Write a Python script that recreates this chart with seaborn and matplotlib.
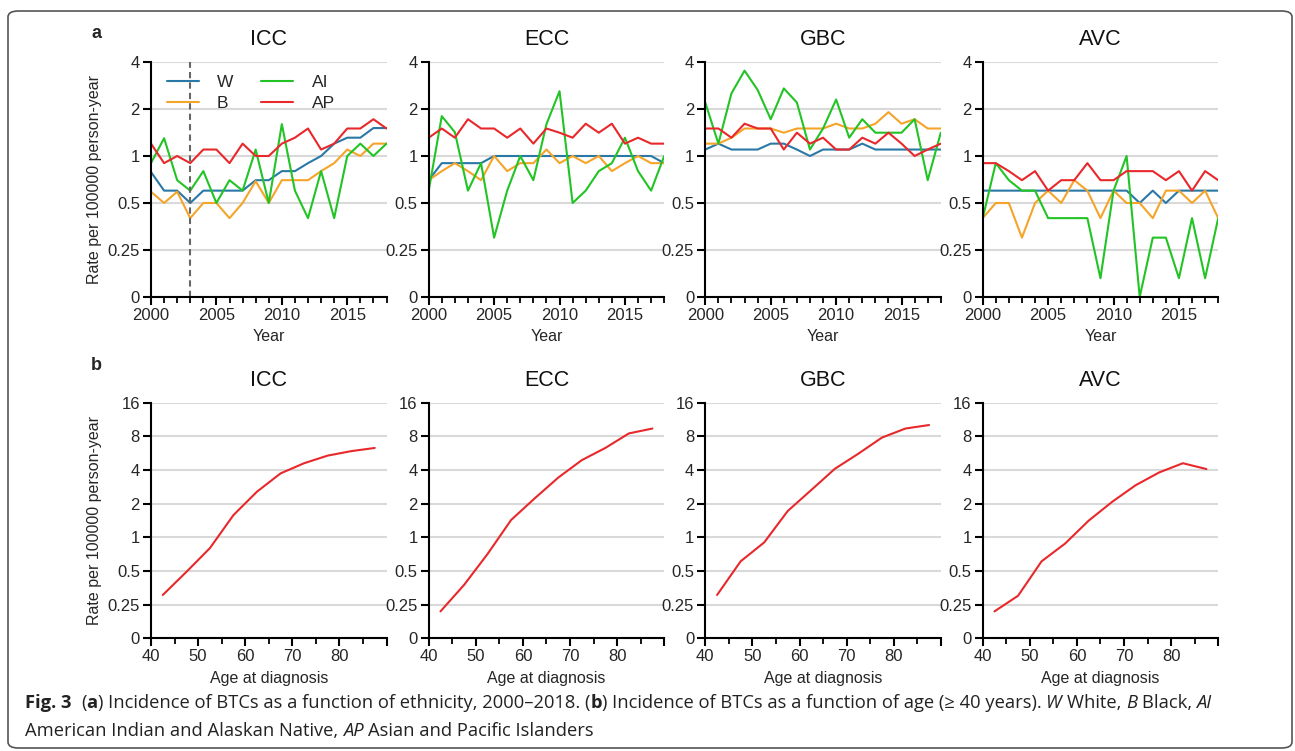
import numpy as np
import pandas as pd
import matplotlib
matplotlib.use("Agg")
import matplotlib.pyplot as plt
from matplotlib import font_manager
from matplotlib.patches import FancyBboxPatch
import seaborn as sns

# ---- data ----
years = list(range(2000, 2019))
groups = ["W", "B", "AI", "AP"]
sites = ["ICC", "ECC", "GBC", "AVC"]

icc_w = [0.79, 0.6, 0.6, 0.5, 0.6, 0.6, 0.6, 0.6, 0.7, 0.7, 0.8, 0.8, 0.9, 1.0, 1.2, 1.31, 1.31, 1.51, 1.51]
icc_b = [0.59, 0.5, 0.59, 0.4, 0.5, 0.5, 0.4, 0.5, 0.69, 0.5, 0.7, 0.7, 0.7, 0.8, 0.9, 1.1, 1.0, 1.2, 1.2]
icc_ai = [0.9, 1.3, 0.7, 0.6, 0.8, 0.5, 0.7, 0.6, 1.1, 0.5, 1.6, 0.6, 0.4, 0.8, 0.4, 1.0, 1.2, 1.0, 1.2]
icc_ap = [1.2, 0.9, 1.0, 0.9, 1.1, 1.1, 0.9, 1.2, 1.0, 1.0, 1.2, 1.31, 1.5, 1.1, 1.2, 1.5, 1.5, 1.72, 1.5]

ecc_w = [0.7, 0.9, 0.9, 0.9, 0.9, 1.0, 1.0, 1.0, 1.0, 1.0, 1.0, 1.0, 1.0, 1.0, 1.0, 1.0, 1.0, 1.0, 0.9]
ecc_b = [0.7, 0.8, 0.9, 0.8, 0.7, 1.0, 0.8, 0.9, 0.9, 1.1, 0.9, 1.0, 0.9, 1.0, 0.8, 0.9, 1.0, 0.9, 0.9]
ecc_ai = [0.6, 1.8, 1.42, 0.6, 0.9, 0.3, 0.6, 1.0, 0.7, 1.6, 2.6, 0.5, 0.6, 0.8, 0.9, 1.31, 0.8, 0.6, 1.0]
ecc_ap = [1.31, 1.5, 1.31, 1.72, 1.5, 1.5, 1.31, 1.5, 1.2, 1.5, 1.41, 1.31, 1.61, 1.41, 1.61, 1.2, 1.31, 1.2, 1.2]

gbc_w = [1.1, 1.2, 1.1, 1.1, 1.1, 1.2, 1.2, 1.1, 1.0, 1.1, 1.1, 1.1, 1.2, 1.1, 1.1, 1.1, 1.1, 1.1, 1.1]
gbc_b = [1.2, 1.2, 1.31, 1.5, 1.5, 1.5, 1.41, 1.5, 1.5, 1.5, 1.61, 1.5, 1.5, 1.61, 1.91, 1.61, 1.72, 1.5, 1.5]
gbc_ai = [2.2, 1.2, 2.52, 3.52, 2.65, 1.72, 2.71, 2.2, 1.1, 1.5, 2.3, 1.31, 1.72, 1.41, 1.41, 1.41, 1.72, 0.7, 1.41]
gbc_ap = [1.5, 1.5, 1.31, 1.61, 1.5, 1.5, 1.1, 1.41, 1.2, 1.31, 1.1, 1.1, 1.31, 1.2, 1.41, 1.2, 1.0, 1.1, 1.2]

avc_w = [0.6, 0.6, 0.6, 0.6, 0.6, 0.6, 0.6, 0.6, 0.6, 0.6, 0.6, 0.6, 0.5, 0.6, 0.5, 0.6, 0.6, 0.6, 0.6]
avc_b = [0.4, 0.5, 0.5, 0.3, 0.5, 0.6, 0.5, 0.7, 0.6, 0.4, 0.6, 0.5, 0.5, 0.4, 0.6, 0.6, 0.5, 0.6, 0.4]
avc_ai = [0.4, 0.9, 0.7, 0.6, 0.6, 0.4, 0.4, 0.4, 0.4, 0.1, 0.6, 1.0, 0.0, 0.3, 0.3, 0.1, 0.4, 0.1, 0.4]
avc_ap = [0.9, 0.9, 0.8, 0.7, 0.8, 0.6, 0.7, 0.7, 0.9, 0.7, 0.7, 0.8, 0.8, 0.8, 0.7, 0.8, 0.6, 0.8, 0.7]

ages = [42.5, 47.5, 52.5, 57.5, 62.5, 67.5, 72.5, 77.5, 82.5, 87.5]
icc_age = [0.305, 0.49, 0.80, 1.58, 2.56, 3.73, 4.6, 5.38, 5.9, 6.3]
ecc_age = [0.2, 0.375, 0.71, 1.43, 2.23, 3.42, 4.9, 6.3, 8.5, 9.4]
gbc_age = [0.305, 0.61, 0.90, 1.72, 2.65, 4.1, 5.6, 7.8, 9.4, 10.1]
avc_age = [0.2, 0.30, 0.61, 0.88, 1.41, 2.08, 2.93, 3.81, 4.6, 4.08]

eth = {
    "ICC": [icc_w, icc_b, icc_ai, icc_ap],
    "ECC": [ecc_w, ecc_b, ecc_ai, ecc_ap],
    "GBC": [gbc_w, gbc_b, gbc_ai, gbc_ap],
    "AVC": [avc_w, avc_b, avc_ai, avc_ap],
}
age = {"ICC": icc_age, "ECC": ecc_age, "GBC": gbc_age, "AVC": avc_age}

top_ticks = [0, 0.25, 0.5, 1, 2, 4]
top_labels = ["0", "0.25", "0.5", "1", "2", "4"]
bot_ticks = [0, 0.25, 0.5, 1, 2, 4, 8, 16]
bot_labels = ["0", "0.25", "0.5", "1", "2", "4", "8", "16"]

colors = {"W": "#2a78a6", "B": "#f5a42a", "AI": "#22c425", "AP": "#e8282b"}
red = "#e8282b"

rows = []
for s in sites:
    for g, vals in zip(groups, eth[s]):
        for yr, v in zip(years, vals):
            rows.append({"site": s, "group": g, "year": yr, "rate": v})
df_eth = pd.DataFrame(rows)
df_age = pd.DataFrame([{"site": s, "age": a, "rate": v}
                       for s in sites for a, v in zip(ages, age[s])])


# log2 axis with a linear segment from 0 to 0.25
def fwd(v):
    v = np.asarray(v, dtype=float)
    with np.errstate(divide="ignore", invalid="ignore"):
        lg = np.log2(np.where(v > 0.25, v, 0.25))
    return np.where(v >= 0.25, lg, -3 + v * 4)


def inv(p):
    p = np.asarray(p, dtype=float)
    return np.where(p >= -2, 2.0 ** p, (p + 3) / 4)


sns.set_style("white")
plt.rcParams["font.family"] = ["Liberation Sans", "DejaVu Sans"]

fig = plt.figure(figsize=(12.95, 7.51), dpi=100)
W, H = 1295, 751

lefts = [151, 428.7, 705.3, 982.7]
aw = 235.5
tick_fs = 12
title_fs = 15.5

for i, s in enumerate(sites):
    # ---- row a ----
    ax = fig.add_axes([lefts[i] / W, 1 - 297 / H, aw / W, 235 / H])
    sub = df_eth[df_eth.site == s]
    sns.lineplot(data=sub, x="year", y="rate", hue="group", hue_order=groups,
                 palette=colors, estimator=None, linewidth=1.5, ax=ax,
                 legend=(i == 0))
    ax.set_yscale("function", functions=(fwd, inv))
    ax.set_ylim(0, 4)
    ax.set_xlim(2000, 2018)
    ax.set_yticks(top_ticks)
    ax.set_yticklabels(top_labels)
    ax.set_xticks([2000, 2005, 2010, 2015])
    ax.set_xticks(years, minor=True)
    ax.grid(axis="y", color="#d9d9d9", linewidth=1.5)
    ax.set_axisbelow(True)
    ax.set_title(s, fontsize=title_fs, pad=12)
    ax.set_xlabel("Year", fontsize=11.5, labelpad=4)
    if i == 0:
        ax.set_ylabel("Rate per 100000 person-year", fontsize=11.5, labelpad=4)
        ax.axvline(2003, color="#666666", linestyle=(0, (3, 2)), linewidth=1.5)
        h, l = ax.get_legend_handles_labels()
        ax.legend(h, l, ncol=2, loc="upper left", frameon=False,
                  fontsize=12.5, handlelength=1.85, columnspacing=1.6,
                  handletextpad=1.05, labelspacing=0.3,
                  bbox_to_anchor=(0.0, 1.01))
    else:
        ax.set_ylabel("")

    # ---- row b ----
    bx = fig.add_axes([lefts[i] / W, 1 - 638.3 / H, aw / W, 235.6 / H])
    sns.lineplot(data=df_age[df_age.site == s], x="age", y="rate",
                 color=red, linewidth=1.5, estimator=None, ax=bx)
    bx.set_yscale("function", functions=(fwd, inv))
    bx.set_ylim(0, 16)
    bx.set_xlim(40, 90)
    bx.set_yticks(bot_ticks)
    bx.set_yticklabels(bot_labels)
    bx.set_xticks([40, 50, 60, 70, 80, 90])
    bx.set_xticklabels(["40", "50", "60", "70", "80", ""])
    bx.set_xticks([45, 55, 65, 75, 85], minor=True)
    bx.grid(axis="y", color="#d9d9d9", linewidth=1.5)
    bx.set_axisbelow(True)
    bx.set_title(s, fontsize=title_fs, pad=12)
    bx.set_xlabel("Age at diagnosis", fontsize=11.5, labelpad=5)
    if i == 0:
        bx.set_ylabel("Rate per 100000 person-year", fontsize=11.5, labelpad=4)
    else:
        bx.set_ylabel("")

    for a in (ax, bx):
        sns.despine(ax=a)
        for sp in ("left", "bottom"):
            a.spines[sp].set_color("black")
            a.spines[sp].set_linewidth(1.5)
        a.tick_params(axis="both", which="major", direction="out", length=6,
                      width=1.5, color="black", labelsize=tick_fs, pad=2,
                      left=True, bottom=True)
        a.tick_params(axis="x", which="minor", direction="out", length=4,
                      width=1.3, color="black", bottom=True)
        a.title.set_color("#111111")

fig.text(96 / W, 1 - 33 / H, "a", fontsize=13, fontweight="bold", ha="center", va="center")
fig.text(96 / W, 1 - 366 / H, "b", fontsize=13, fontweight="bold", ha="center", va="center")

# ---- caption ----
names = {f.name for f in font_manager.fontManager.ttflist}
cap_family = "Liberation Sans Narrow" if "Liberation Sans Narrow" in names else "Open Sans"
renderer = fig.canvas.get_renderer()


def adv(s, size, **kw):
    t1 = fig.text(0, 0, "|" + s + "|", fontsize=size, family=cap_family, **kw)
    t2 = fig.text(0, 0, "||", fontsize=size, family=cap_family, **kw)
    w = t1.get_window_extent(renderer).width - t2.get_window_extent(renderer).width
    t1.remove()
    t2.remove()
    return w


def rich(x_px, y_px, parts, size):
    x = x_px
    for txt, kw in parts:
        stripped = txt.lstrip()
        x += adv(txt[:len(txt) - len(stripped)], size, **kw)
        fig.text(x / W, 1 - y_px / H, stripped, fontsize=size, family=cap_family,
                 va="baseline", ha="left", color="#222222", **kw)
        x += adv(stripped, size, **kw)
    return x


N = {}
B = {"fontweight": "bold"}
I = {"fontstyle": "italic"}
line1 = [("Fig. 3", B), ("  (", N), ("a", B),
         (") Incidence of BTCs as a function of ethnicity, 2000\u20132018. (", N),
         ("b", B), (") Incidence of BTCs as a function of age (\u2265 40 years). ", N),
         ("W", I), (" White, ", N), ("B", I), (" Black, ", N), ("AI", I)]
line2 = [("American Indian and Alaskan Native, ", N), ("AP", I),
         (" Asian and Pacific Islanders", N)]

base = 12.0
total = sum(adv(t, base, **k) for t, k in line1)
cap_size = base * (1213 - 25) / total
rich(25, 708, line1, cap_size)
rich(25, 736, line2, cap_size)

fig.patches.append(FancyBboxPatch((8 / W, 3 / H), 1284 / W, 737 / H,
                                  boxstyle="round,pad=0,rounding_size=0.008",
                                  transform=fig.transFigure, fill=False,
                                  edgecolor="#555555", linewidth=1.2, figure=fig))

fig.savefig("out.png", dpi=100)
